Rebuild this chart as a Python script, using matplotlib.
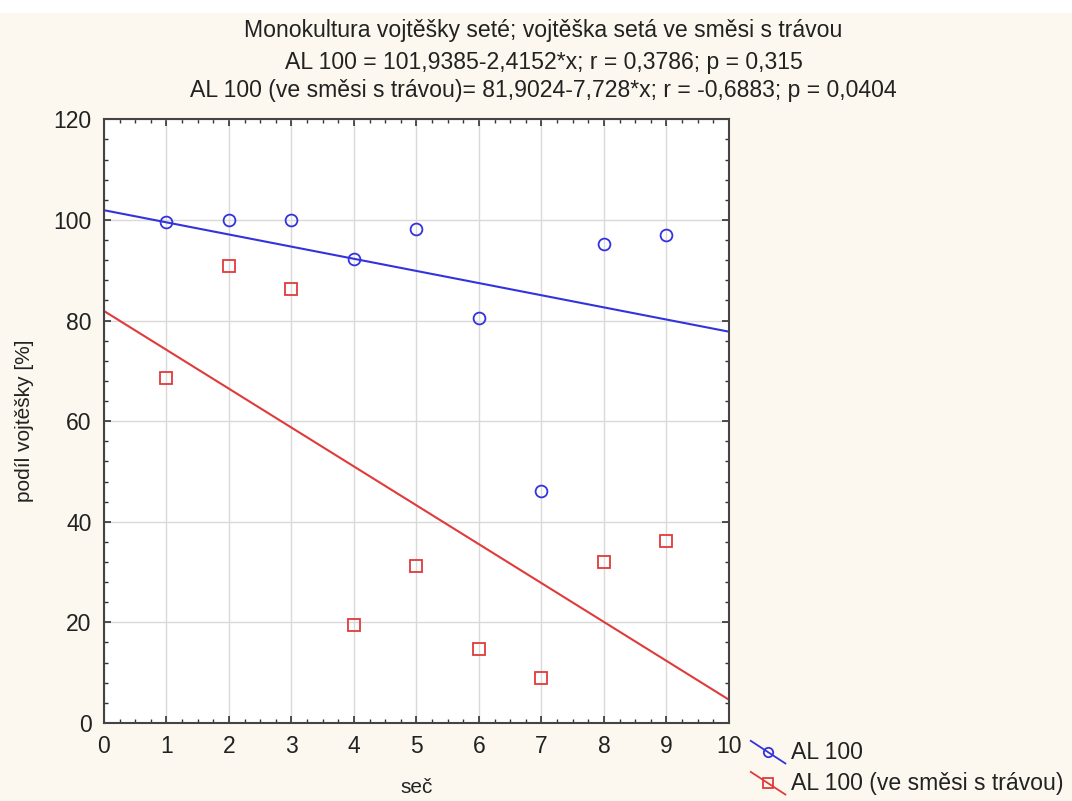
import matplotlib
matplotlib.use('Agg')
import matplotlib.pyplot as plt
import numpy as np
from matplotlib.lines import Line2D
from matplotlib.legend_handler import HandlerLine2D
from matplotlib.ticker import MultipleLocator

# cut number (seč) and alfalfa share [%]
sec = [1, 2, 3, 4, 5, 6, 7, 8, 9]
al100 = [99.5, 100.0, 100.0, 92.2, 98.2, 80.5, 46.2, 95.2, 97.0]
al100_mix = [68.5, 90.8, 86.2, 19.5, 31.3, 14.7, 9.0, 32.1, 36.1]

# regression coefficients (intercept, slope)
fit_al100 = (101.9385, -2.4152)
fit_mix = (81.9024, -7.728)

bg = '#fcf8ef'
blue = '#3333dd'
red = '#e03a3a'


class DiagonalHandler(HandlerLine2D):
    # legend key drawn as a falling line with the marker in its middle
    def create_artists(self, legend, orig_handle, xdescent, ydescent,
                       width, height, fontsize, trans):
        line = Line2D([0, width], [height * 1.1, -height * 0.3],
                      color=orig_handle.get_color(), lw=orig_handle.get_linewidth())
        mark = Line2D([width / 2], [height * 0.4], linestyle='none',
                      marker=orig_handle.get_marker(),
                      markersize=orig_handle.get_markersize() * 0.9,
                      markerfacecolor='none',
                      markeredgecolor=orig_handle.get_markeredgecolor(),
                      markeredgewidth=orig_handle.get_markeredgewidth())
        line.set_transform(trans)
        mark.set_transform(trans)
        return [line, mark]


plt.rcParams['font.family'] = ['Liberation Sans', 'DejaVu Sans']

fig = plt.figure(figsize=(10.72, 8.01), dpi=100, facecolor=bg)
fig.patches.append(plt.Rectangle((0, 0.984), 1, 0.016, transform=fig.transFigure,
                                 facecolor='white', edgecolor='none', zorder=0))

ax = fig.add_axes([0.097, 0.0974, 0.583, 0.7536])
ax.set_facecolor('white')

xx = np.array([0, 10])
ax.plot(xx, fit_al100[0] + fit_al100[1] * xx, color=blue, lw=1.5, zorder=2)
ax.plot(xx, fit_mix[0] + fit_mix[1] * xx, color=red, lw=1.5, zorder=2)
ax.plot(sec, al100, linestyle='none', marker='o', markersize=8.5,
        markerfacecolor='none', markeredgecolor=blue, markeredgewidth=1.3, zorder=3)
ax.plot(sec, al100_mix, linestyle='none', marker='s', markersize=8,
        markerfacecolor='none', markeredgecolor=red, markeredgewidth=1.3, zorder=3)

ax.set_xlim(0, 10)
ax.set_ylim(0, 120)
ax.xaxis.set_major_locator(MultipleLocator(1))
ax.xaxis.set_minor_locator(MultipleLocator(0.25))
ax.yaxis.set_major_locator(MultipleLocator(20))
ax.yaxis.set_minor_locator(MultipleLocator(4))
ax.grid(True, which='major', color='#d9d9d9', lw=1.0)
ax.set_axisbelow(True)
ax.tick_params(which='both', direction='in', top=True, right=True, colors='#333333',
               labelsize=16.5, labelcolor='#222222')
ax.tick_params(which='major', length=5, width=1.2, pad=9)
ax.tick_params(which='minor', length=3, width=1.0)
for s in ax.spines.values():
    s.set_color('#444444')
    s.set_linewidth(1.5)

ax.set_xlabel('seč', fontsize=15, color='#222222', labelpad=14)
ax.set_ylabel('podíl vojtěšky [%]', fontsize=15, color='#222222', labelpad=14)

title_kw = dict(ha='center', va='center', fontsize=16.6, color='#222222')
fig.text(0.507, 0.962, 'Monokultura vojtěšky seté; vojtěška setá ve směsi s trávou', **title_kw)
fig.text(0.507, 0.922, 'AL 100 = 101,9385-2,4152*x; r = 0,3786; p = 0,315', **title_kw)
fig.text(0.507, 0.887, 'AL 100 (ve směsi s trávou)= 81,9024-7,728*x; r = -0,6883; p = 0,0404',
         **title_kw)

h1 = Line2D([], [], color=blue, lw=1.3, marker='o', markersize=7.5,
            markerfacecolor='none', markeredgecolor=blue, markeredgewidth=1.3)
h2 = Line2D([], [], color=red, lw=1.3, marker='s', markersize=7.5,
            markerfacecolor='none', markeredgecolor=red, markeredgewidth=1.3)
leg = fig.legend([h1, h2], ['AL 100', 'AL 100 (ve směsi s trávou)'],
                 loc='lower left', bbox_to_anchor=(0.681, -0.018),
                 frameon=False, fontsize=16.6, handlelength=1.5,
                 handletextpad=0.25, labelspacing=0.35,
                 handler_map={Line2D: DiagonalHandler()})
for t in leg.get_texts():
    t.set_color('#222222')

fig.savefig('out.png', dpi=100, facecolor=bg)
